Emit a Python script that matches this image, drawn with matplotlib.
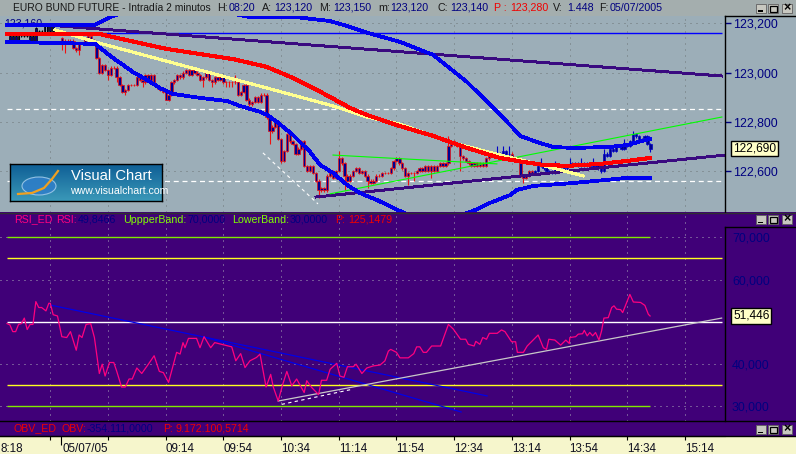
import numpy as np
import matplotlib
matplotlib.use("Agg")
import matplotlib.pyplot as plt
from matplotlib.patches import Rectangle, Ellipse

plt.rcParams['font.family'] = ['Liberation Sans', 'DejaVu Sans']

# ---------- data (x = 2-minute bar number, 09:14 = bar 55) ----------
prior_bars = [1,2,3,4,5,6,7,8,9,10,11,12,13,14,15,16]
prior_open = [123.15,123.13,123.15,123.13,123.15,123.15,123.15,123.15,123.13,123.13,123.17,123.17,123.17,123.19,123.17,123.19]
prior_close= [123.13,123.15,123.13,123.15,123.15,123.15,123.15,123.13,123.15,123.18,123.17,123.17,123.19,123.17,123.19,123.17]

first_bar = 19
first_open = 123.14
bar_close = [
123.12,123.13,123.12,123.13,123.10,123.09,123.12,123.12,123.14,123.15,123.13,123.12,
123.06,123.00,123.03,123.01,122.99,123.02,123.02,122.98,122.95,122.92,122.93,122.95,
122.95,122.95,122.98,122.97,122.96,122.99,122.97,122.99,122.95,122.94,122.93,122.92,
122.89,122.91,122.96,122.97,122.99,122.98,123.00,123.01,122.99,123.01,123.00,122.99,
122.97,122.98,123.00,122.97,122.96,122.98,122.97,122.98,122.96,122.96,122.96,122.96,
122.96,122.91,122.92,122.95,122.89,122.87,122.88,122.90,122.88,122.91,122.91,122.82,
122.76,122.78,122.80,122.73,122.64,122.68,122.75,122.72,122.71,122.67,122.69,122.72,
122.62,122.60,122.62,122.59,122.56,122.52,122.53,122.52,122.58,122.60,122.57,122.60,
122.65,122.63,122.58,122.56,122.58,122.60,122.61,122.59,122.60,122.58,122.56,122.55,
122.56,122.58,122.58,122.59,122.59,122.59,122.61,122.64,122.65,122.63,122.61,122.58,
122.59,122.59,122.59,122.60,122.61,122.60,122.62,122.60,122.62,122.60,122.62,122.63,
122.62,122.63,122.70,122.72,122.71,122.70,122.66,122.65,122.64,122.63,122.62,122.63,
122.62,122.63,122.62,122.65,122.66,122.66,122.67,122.67,122.67,122.68,122.67,122.67,
122.65,122.65,122.64,122.58,122.57,122.58,122.60,122.59,122.60,122.62,122.62,122.61,
122.60,122.60,122.59,122.61,122.60,122.60,122.61,122.62,122.62,122.63,122.63,122.62,
122.62,122.63,122.62,122.63,122.62,122.63,122.61,122.60,122.67,122.66,122.69,122.68,
122.70,122.70,122.69,122.70,122.70,122.72,122.75,122.74,122.73,122.73,122.74,122.71,122.69]
low_wick_bars = [19,20,25,35,38,41,47,55,68,71,76,77,78,90,91,95,108,117,125,139,141,147,157,179,206,223]
low_wick_price= [123.09,123.08,123.07,122.97,122.96,122.91,122.94,122.89,122.94,122.94,122.94,122.94,122.94,122.81,122.71,122.63,122.49,122.52,122.53,122.54,122.56,122.57,122.60,122.55,122.59,122.675]
high_wick_bars = [79,115,153,170,172,174,185,190,195,199,203,207,214,217]
high_wick_price= [122.99,122.68,122.74,122.70,122.70,122.70,122.65,122.64,122.65,122.65,122.65,122.69,122.73,122.76]
blue_bars = list(range(169,175)) + list(range(183,224))

upper_x = [0,30.5,35.7,40.9,75.6,84.2,95.7,101.6,112,118.9,124.1,136.2,147.7,159.4,168.5,175.4,177.8,184.7,189.3,196.2,209,214.9,222.9]
upper_y = [123.194,123.194,123.226,123.247,123.247,123.226,123.226,123.224,123.21,123.186,123.165,123.125,123.072,122.962,122.856,122.774,122.742,122.713,122.697,122.693,122.697,122.705,122.73]
lower_x = [0,30.5,36.7,43.7,48.5,53,57.5,66.9,76.3,80.8,87.7,90.1,93.6,99.1,105,108.5,113,117.9,122.4,128.2,136.2,146.6,161.5,167.4,174.4,176.8,182.3,196.2,208,214.9,222.9]
lower_y = [123.125,123.117,123.06,123.002,122.97,122.937,122.913,122.897,122.884,122.864,122.84,122.828,122.799,122.746,122.677,122.624,122.591,122.542,122.509,122.481,122.436,122.38,122.436,122.469,122.501,122.522,122.538,122.55,122.563,122.571,122.571]
red_x = [0,32.2,38.1,55.5,78.3,90.1,99.1,107.5,118.9,124.8,136.2,147.7,159.4,170.9,178.9,185.8,194.1,205.5,214.9,222.9]
red_y = [123.157,123.157,123.141,123.096,123.055,123.023,122.978,122.929,122.856,122.827,122.782,122.742,122.693,122.652,122.636,122.624,122.62,122.628,122.64,122.652]
yellow_x = [16.6,31.7,66.9,90.1,113,124.8,136.2,153.6,170.9,182.3,199.7]
yellow_y = [123.174,123.121,123.01,122.937,122.864,122.819,122.79,122.717,122.664,122.632,122.579]
trend_purple1_x = [18,247.8];  trend_purple1_y = [123.19,122.986]
trend_purple2_x = [107.1,248.9]; trend_purple2_y = [122.493,122.664]
trend_green1_x = [113,169.8];  trend_green1_y = [122.664,122.628]
trend_green2_x = [112,247.8];  trend_green2_y = [122.506,122.819]
trend_white_x = [88.7,107.8];  trend_white_y = [122.673,122.465]
level_blue = 123.163
levels_dashed = [122.85,122.56]
price_ticks = [123.2,123.0,122.8,122.6]
price_labels = ['123,200','123,000','122,800','122,600']

rsi_x = [0,1,2,3,4,5,6,7,8,9,10,11,12,13.5,14.5,15,16,17.5,19,20.7,22,24,25,26,27.4,29,30.3,32,33,34,35.5,37,38,39.7,41,42.3,43.4,45,46.7,49,51,52.8,54.2,56,57.7,58.8,60,61,61.7,62.9,65.7,66.9,68.3,70.6,72,74.4,77.9,79.3,81,82.5,84.2,86.5,87.7,89.8,91.4,92.3,94,95.6,97,98.7,100.4,103,103.9,105.6,108,109,110.8,112,114.3,115.4,116.8,118,120,121,123,124.7,127,129.3,131,132.2,133,135,136.2,139.1,141,142,143.1,144.3,145.4,147.2,150.3,151.8,153,154.7,157.2,159,159.9,161.9,162.5,163.9,164.9,166.2,167.2,169.9,171.4,172.6,174.9,176.3,176.9,179,180.3,184.1,185.9,187,187.8,189.9,191.9,193.7,194.9,195.1,197.1,198,199.5,200.1,201.1,202,203,204,205.2,206.1,206.9,208.4,209.6,210.4,211.3,212.7,213.4,215.9,217.1,219.6,221.1,222.3,222.9]
rsi_y = [49.6,49.3,47.7,47.7,49.4,49.6,50.9,48.2,49.4,49.4,54.8,53.4,53.4,52.6,54.4,54.4,51.7,51.4,46.5,46.3,47.7,43.3,46.9,46.3,49.4,49.6,46.3,37.8,40,37.2,40.4,40.4,38.4,34.6,34.6,36.5,36.5,39.1,37.8,40,42,38.3,38,35.7,40,42.8,42.4,45.1,43.9,46.1,46.1,43.9,46.5,43.9,45.1,44.7,44.1,40.8,42.5,39.2,40.8,41.6,42.4,34.6,37.6,34.6,31.3,35.3,38.3,34.9,36.5,33.3,36.1,34.5,32.8,36.2,36.2,38.8,40.2,37.2,36.9,39.4,39.4,40,37.8,39.1,39.6,39.8,40.8,43.1,43.5,42.8,41.5,41.5,42.5,44.1,44.1,42.8,42.8,44.3,44.3,47.1,49.4,48.3,45.9,45.9,44.7,44.3,45.4,44.7,46.3,45.9,47.3,47.3,48.1,47.7,45.3,45.3,42.8,42.8,44.3,46.9,43.9,43.5,45.9,45.7,44.5,45.7,44.9,46.3,46.5,47.1,47.2,48,46.7,47.5,46.7,47.5,45.7,47.9,50.9,51,53.4,53.8,53,52.9,52.2,56.5,54.7,54.6,53.9,51.8,51.4]
rsi_trend1_x = [14.9,166.4]; rsi_trend1_y = [54.0,32.5]
rsi_trend2_x = [68,157.4];   rsi_trend2_y = [46.5,28.7]
rsi_trend3_x = [94,247.7];   rsi_trend3_y = [31.3,50.9]
rsi_trend4_x = [95.2,119.9]; rsi_trend4_y = [30.5,34.1]
rsi_ticks = [70,60,40,30]
rsi_labels = ['70,000','60,000','40,000','30,000']

tick_bars = [15,35,55,75,95,115,135,155,175,195,215,235]
tick_labels = ['','','09:14','09:54','10:34','11:14','11:54','12:34','13:14','13:54','14:34','15:14']
date_bar = 18.7

# ---------- colours ----------
BG = '#9CAEB8'; HEAD = '#A4AEAE'; PURPLE = '#400078'; CREAM = '#F6F6CC'
NAVY = '#000080'; GRID = '#6E7678'

W, H = 796, 454
fig = plt.figure(figsize=(W/100, H/100), dpi=100, facecolor=BG)

def box(x0, y0, x1, y1):
    return [x0/W, 1-y1/H, (x1-x0)/W, (y1-y0)/H]

def chrome(x0, y0, x1, y1, **kw):
    fig.add_artist(Rectangle((x0/W, 1-y1/H), (x1-x0)/W, (y1-y0)/H, transform=fig.transFigure, **kw))

def label(x, y, s, c, size=7.7, **kw):
    fig.text(x/W, 1-y/H, s, color=c, fontsize=size, va='center', ha='left', **kw)

# chrome backgrounds (behind the axes)
chrome(0, 0, W, 16, fc=HEAD, ec='none', zorder=-5)
chrome(0, 212, W, 436, fc=PURPLE, ec='none', zorder=-5)
chrome(0, 436, W, H, fc=CREAM, ec='none', zorder=-5)

XLIM = (-2.426, 248.87)
AL = dict(antialiased=False)

# ---------- price panel ----------
ax = fig.add_axes(box(0, 16, 725, 212), facecolor=BG)
ax.set_xlim(*XLIM); ax.set_ylim(122.432, 123.2305)
for s in ax.spines.values(): s.set_visible(False)
ax.yaxis.tick_right()
ax.set_yticks(price_ticks); ax.set_yticklabels(price_labels, color=NAVY, fontsize=8.9)
ax.tick_params(axis='y', length=4, width=1, color=NAVY, pad=1.5)
ax.set_xticks(tick_bars); ax.tick_params(axis='x', length=0, labelbottom=False)
ax.grid(True, color=GRID, lw=0.72, linestyle=(0, (1, 5)), zorder=1)
ax.set_axisbelow(True)

ax.hlines(level_blue, 0, 248, color='#0000FF', lw=1.0, zorder=2)
ax.hlines(levels_dashed, 0, 248, color='white', lw=0.9, linestyles=(0, (4, 3)), zorder=2)
ax.plot(trend_white_x, trend_white_y, color='white', lw=0.8, ls=(0, (3, 3)), zorder=2)

# bars
pc = np.array(prior_close); po = np.array(prior_open)
ax.vlines(prior_bars, np.minimum(po, pc)-0.005, np.maximum(po, pc)+0.005, color='black', lw=0.8, zorder=3)
ax.bar(prior_bars, np.abs(pc-po), bottom=np.minimum(po, pc), width=0.6, color=NAVY, edgecolor='black', lw=0.5, zorder=3)

closes = np.array(bar_close)
opens = np.r_[first_open, closes[:-1]]
bars = first_bar + np.arange(len(closes))
highs = np.maximum(opens, closes) + 0.005
lows = np.minimum(opens, closes) - 0.005
for b, p in zip(low_wick_bars, low_wick_price):  lows[b-first_bar] = p
for b, p in zip(high_wick_bars, high_wick_price): highs[b-first_bar] = p
is_blue = np.isin(bars, blue_bars)
wick_col = np.where(is_blue, '#0000C8', '#F01010')
ax.vlines(bars, lows, highs, colors=wick_col, lw=0.8, zorder=3)
ax.bar(bars, np.abs(closes-opens), bottom=np.minimum(opens, closes), width=0.8,
       color='#000090', edgecolor=wick_col, lw=0.5, zorder=3)

ax.plot(trend_purple1_x, trend_purple1_y, color='#3A0A80', lw=1.4, zorder=4, **AL)
ax.plot(trend_purple2_x, trend_purple2_y, color='#3A0A80', lw=1.4, zorder=4, **AL)
ax.plot(trend_green1_x, trend_green1_y, color='#00FF00', lw=0.8, zorder=4)
ax.plot(trend_green2_x, trend_green2_y, color='#00FF00', lw=0.8, zorder=4)
ax.plot(yellow_x, yellow_y, color='#FFFF90', lw=1.5, zorder=5, **AL)
ax.plot(red_x, red_y, color='#FF0000', lw=2.2, zorder=6, **AL)
ax.plot(upper_x, upper_y, color='#0000F0', lw=2.0, zorder=7, **AL)
ax.plot(lower_x, lower_y, color='#0000F0', lw=2.0, zorder=7, **AL)
ax.text(-0.8, 123.2, '123,160', color=NAVY, fontsize=7.7, va='center', zorder=2.5)
ax.text(733/725, 122.69, '122,690', transform=ax.get_yaxis_transform(), color='black', fontsize=8.6,
        va='center', ha='left', clip_on=False,
        bbox=dict(boxstyle='square,pad=0.15', fc='#FFFFC8', ec='black', lw=1))

# ---------- RSI panel ----------
ax2 = fig.add_axes(box(0, 212, 725, 421), facecolor=PURPLE)
ax2.set_xlim(*XLIM); ax2.set_ylim(26.57, 75.98)
for s in ax2.spines.values(): s.set_visible(False)
ax2.yaxis.tick_right()
ax2.set_yticks(rsi_ticks); ax2.set_yticklabels(rsi_labels, color=NAVY, fontsize=8.9)
ax2.tick_params(axis='y', length=0, pad=5)
ax2.set_xticks(tick_bars); ax2.tick_params(axis='x', length=0, labelbottom=False)
ax2.grid(True, color='#A8A8B8', lw=0.72, linestyle=(0, (1, 5)), zorder=1)
ax2.set_axisbelow(True)
ax2.hlines([70, 30], 0, 222.9, color='#80E800', lw=1.0, zorder=2)
ax2.hlines([65, 35], 0, 248, color='#FFFF20', lw=1.0, zorder=2)
ax2.hlines(50, 0, 248, color='white', lw=1.0, zorder=2)
ax2.plot(rsi_trend1_x, rsi_trend1_y, color='#0000E8', lw=0.9, zorder=3)
ax2.plot(rsi_trend2_x, rsi_trend2_y, color='#0000E8', lw=0.9, zorder=3)
ax2.plot(rsi_trend3_x, rsi_trend3_y, color='#C8C8C8', lw=0.9, zorder=3)
ax2.plot(rsi_trend4_x, rsi_trend4_y, color='white', lw=0.8, ls=(0, (3, 3)), zorder=3)
ax2.plot(rsi_x, rsi_y, color='#FF0080', lw=0.9, zorder=4)
ax2.text(733/725, 51.446, '51,446', transform=ax2.get_yaxis_transform(), color='black', fontsize=8.6,
         va='center', ha='left', clip_on=False, zorder=10,
         bbox=dict(boxstyle='square,pad=0.15', fc='#FFFFC8', ec='black', lw=1))

# ---------- time axis ----------
ax3 = fig.add_axes(box(0, 436, 725, 454), facecolor=CREAM)
ax3.set_xlim(*XLIM); ax3.set_ylim(0, 1); ax3.set_yticks([])
for k, s in ax3.spines.items(): s.set_visible(k == 'top')
ax3.spines['top'].set_linewidth(0.8)
ax3.xaxis.tick_top()
ax3.set_xticks(tick_bars); ax3.set_xticklabels(['']*len(tick_bars))
ax3.tick_params(axis='x', length=3.2, width=0.8, direction='in', color='black')
ax3.set_xticks([date_bar], minor=True)
ax3.tick_params(axis='x', which='minor', length=6.5, width=0.8, direction='in', color='black')
for b, t in zip(tick_bars, tick_labels):
    ax3.text(b, 0.27, t, color='#101020', fontsize=8.4, va='center', ha='left')
ax3.text(date_bar+0.5, 0.27, '05/07/05', color='#101020', fontsize=8.4, va='center', ha='left')
ax3.text(-2.3, 0.27, '8:18', color='#101020', fontsize=8.4, va='center', ha='left', clip_on=False)

# ---------- panel frames ----------
fig.add_artist(plt.Line2D([725/W, 725/W], [1-16/H, 1-212/H], color='black', lw=1.0))
fig.add_artist(plt.Line2D([725/W, 1], [1-16/H, 1-16/H], color='black', lw=1.0))
fig.add_artist(plt.Line2D([725/W, 725/W], [1-227/H, 1-421/H], color='black', lw=1.0))
fig.add_artist(plt.Line2D([725/W, 1], [1-227/H, 1-227/H], color='black', lw=1.0))
fig.add_artist(plt.Line2D([0, 1], [1-212.5/H, 1-212.5/H], color='#303030', lw=1.0))
fig.add_artist(plt.Line2D([0, 1], [1-421/H, 1-421/H], color='black', lw=1.0))
fig.add_artist(plt.Line2D([0, 1], [1-436/H, 1-436/H], color='black', lw=1.0))

# ---------- window buttons ----------
def buttons(y):
    for x0, g in zip((756, 768, 782), ('_', 'o', 'x')):
        chrome(x0, y, x0+10, y+9, fc='#C8C8C0', ec='#606060', lw=0.6, zorder=5)
        cx, cy = x0+5, y+4.5
        if g == '_':
            chrome(cx-3, cy+2, cx+2, cy+3, fc='black', ec='none', zorder=6)
        elif g == 'o':
            chrome(cx-3.5, cy-3, cx+3.5, cy+3, fc='none', ec='black', lw=0.9, zorder=6)
        else:
            fig.text(cx/W, 1-cy/H, '×', color='black', fontsize=9, fontweight='bold', ha='center', va='center', zorder=6)
buttons(4); buttons(215); buttons(425)

# ---------- texts ----------
y = 8
label(13, y, 'EURO BUND FUTURE - Intradía 2 minutos', '#181818', size=7.35)
for x, s, c in [(217,'H:','#181818'),(229,'08:20',NAVY),(262,'A:','#181818'),(274,'123,120',NAVY),
                (319,'M:','#181818'),(333,'123,150',NAVY),(378,'m:','#181818'),(390,'123,120',NAVY),
                (437,'C:','#181818'),(450,'123,140',NAVY),(494,'P :','#F00000'),(510,'123,280','#F00000'),
                (553,'V:','#181818'),(567,'1.448',NAVY),(599,'F:','#181818'),(610,'05/07/2005',NAVY)]:
    label(x, y, s, c)
y = 219.5
for x, s, c in [(14,'RSI_ED','#FF0080'),(56,'RSI:','#FF0080'),(78,'49,8466',NAVY),
                (123,'UppperBand:','#80FF00'),(187,'70,0000',NAVY),(232,'LowerBand:','#80FF00'),
                (290,'30,0000',NAVY),(335,'P:','#F00000'),(348,'125,1479','#F00000')]:
    label(x, y, s, c)
y = 428.5
for x, s, c in [(14,'OBV_ED','#F00000'),(61,'OBV:','#F00000'),(87,'-354.111,0000',NAVY),
                (163,'P:','#F00000'),(175,'9.172.100,5714','#F00000')]:
    label(x, y, s, c)

# ---------- logo ----------
lg = fig.add_axes(box(10, 164, 162, 201), zorder=20)
lg.imshow(np.linspace(0, 1, 32).reshape(-1, 1), aspect='auto', extent=(0, 152, 37, 0),
          cmap=matplotlib.colors.LinearSegmentedColormap.from_list('l', ['#0F5F96', '#3A98B8']))
lg.set_xlim(0, 152); lg.set_ylim(37, 0); lg.set_xticks([]); lg.set_yticks([])
for s in lg.spines.values(): s.set_color('black'); s.set_linewidth(1)
lg.add_patch(Ellipse((29, 22), 34, 18, fc='#2F7FC8', ec='#9CC8E8', lw=0.8, alpha=0.9))
lg.plot([8, 22, 34, 42, 48], [30, 29, 24, 15, 7], color='#F0A020', lw=1.6)
lg.text(61, 12, 'Visual Chart', color='white', fontsize=10.6, va='center', ha='left')
lg.text(60, 27, 'www.visualchart.com', color='white', fontsize=7.6, va='center', ha='left')

fig.savefig('out.png', dpi=100, facecolor=fig.get_facecolor())
